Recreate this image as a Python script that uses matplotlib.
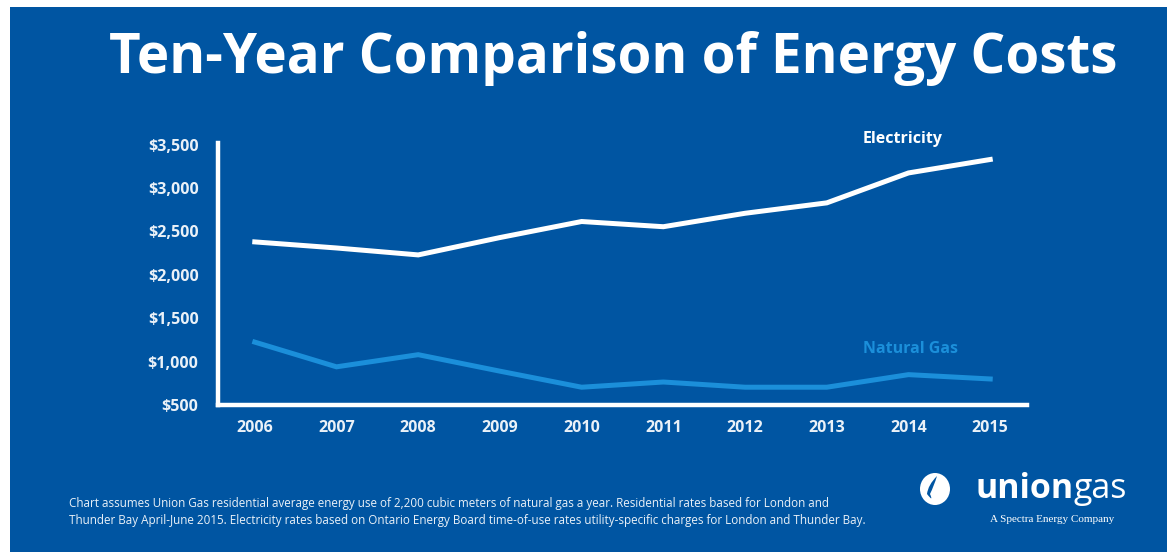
import matplotlib.pyplot as plt
from matplotlib.patches import Rectangle, Ellipse, PathPatch
from matplotlib.path import Path
from matplotlib.ticker import FuncFormatter

years = [2006, 2007, 2008, 2009, 2010, 2011, 2012, 2013, 2014, 2015]
electricity = [2380, 2310, 2230, 2430, 2615, 2555, 2710, 2830, 3175, 3330]
natural_gas = [1225, 940, 1080, 890, 705, 765, 705, 705, 850, 800]
y_ticks = [500, 1000, 1500, 2000, 2500, 3000, 3500]

BG = "#0055A2"
GAS = "#1B8FDA"
TXT = "#EAF1F8"


def main():
    fig = plt.figure(figsize=(11.67, 5.52), dpi=100)
    fig.patch.set_facecolor("white")
    fig.patches.append(Rectangle((10 / 1167, 0), 1, 1 - 7 / 552, transform=fig.transFigure,
                                 facecolor=BG, edgecolor="none", zorder=-5))

    fig.text(613 / 1167, 1 - 58 / 552, "Ten-Year Comparison of Energy Costs", color="white",
             fontsize=39.4, fontweight="bold", family="Open Sans", ha="center", va="center")

    ax = fig.add_axes([218 / 1167, 1 - 405 / 552, (1027 - 218) / 1167, (405 - 143) / 552])
    ax.set_facecolor("none")
    ax.plot(years, electricity, color="white", lw=3.6, solid_joinstyle="miter")
    ax.plot(years, natural_gas, color=GAS, lw=3.6, solid_joinstyle="miter")
    ax.set_xlim(2005.55, 2015.45)
    ax.set_ylim(500, 3520)
    ax.set_xticks(years)
    ax.set_yticks(y_ticks)
    ax.yaxis.set_major_formatter(FuncFormatter(lambda v, p: "${:,.0f}".format(v)))
    ax.tick_params(length=0, colors=TXT, labelsize=11.5)
    ax.tick_params(axis="y", pad=14)
    ax.tick_params(axis="x", pad=11)
    for lab in ax.get_xticklabels() + ax.get_yticklabels():
        lab.set_fontweight("bold")
        lab.set_family("Open Sans")
    for s in ["top", "right"]:
        ax.spines[s].set_visible(False)
    for s in ["left", "bottom"]:
        ax.spines[s].set_color("white")
        ax.spines[s].set_linewidth(3.2)
        ax.spines[s].set_capstyle("projecting")

    ax.text(2013.44, 3570, "Electricity", color="white", fontsize=11.5, fontweight="bold",
            family="Open Sans", ha="left", va="center", clip_on=False)
    ax.text(2013.44, 1140, "Natural Gas", color=GAS, fontsize=11.5, fontweight="bold",
            family="Open Sans", ha="left", va="center")

    note = ("Chart assumes Union Gas residential average energy use of 2,200 cubic meters of natural gas a year. "
            "Residential rates based for London and\nThunder Bay April-June 2015. Electricity rates based on "
            "Ontario Energy Board time-of-use rates utility-specific charges for London and Thunder Bay.")
    fig.text(69 / 1167, 1 - 512 / 552, note, color=TXT, fontsize=8.4, family="Open Sans",
             ha="left", va="center", linespacing=1.35)

    # logo
    fig.patches.append(Ellipse((935 / 1167, 1 - 489 / 552), 30 / 1167, 32 / 552,
                               transform=fig.transFigure, facecolor="white", edgecolor="none"))
    flame = Path([(937, 476), (928, 485), (927, 494), (934, 503), (930, 494), (934, 486), (937, 476)],
                 [Path.MOVETO, Path.CURVE3, Path.CURVE3, Path.CURVE3, Path.CURVE3, Path.CURVE3, Path.CURVE3])
    flame = Path([(x / 1167, 1 - y / 552) for x, y in flame.vertices], flame.codes)
    fig.patches.append(PathPatch(flame, transform=fig.transFigure, facecolor=BG, edgecolor="none"))
    fig.text(975 / 1167, 1 - 489 / 552, "union", color="white", fontsize=24.5, fontweight="bold",
             family="Open Sans", ha="left", va="center")
    fig.text(1073 / 1167, 1 - 489 / 552, "gas", color="white", fontsize=24.5,
             family="Open Sans", ha="left", va="center")
    fig.text(1052 / 1167, 1 - 520 / 552, "A Spectra Energy Company", color="white", fontsize=8,
             family="Liberation Serif", ha="center", va="center")

    fig.savefig("out.png", dpi=100, facecolor=fig.get_facecolor())


if __name__ == "__main__":
    main()
